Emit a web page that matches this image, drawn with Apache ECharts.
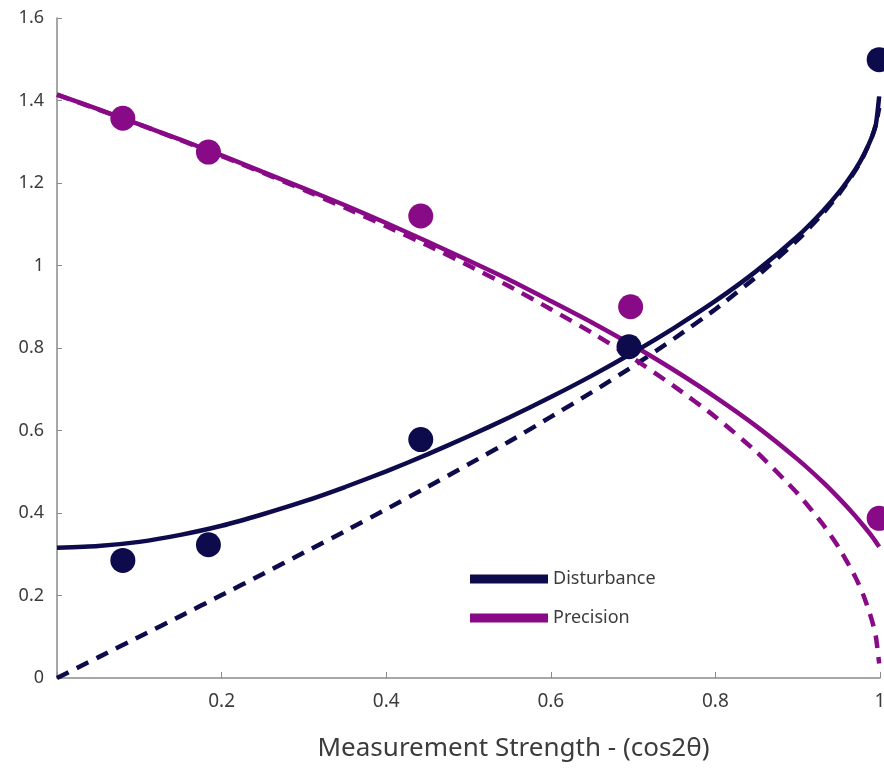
<!DOCTYPE html>
<html>
<head>
<meta charset="utf-8">
<script src="https://cdn.jsdelivr.net/npm/echarts@6/dist/echarts.min.js"></script>
<style>
html,body{margin:0;padding:0;background:#fff;}
#c{width:884px;height:769px;}
</style>
</head>
<body>
<div id="c"></div>
<script>
// ---- data ----
const xTickLabels = ['', '0.2', '0.4', '0.6', '0.8', '1'];
const yTickLabels = ['0', '0.2', '0.4', '0.6', '0.8', '1', '1.2', '1.4', '1.6'];

// measured points (x, y)
const disturbancePoints = [[0.08, 0.285], [0.184, 0.323], [0.442, 0.578], [0.695, 0.803], [0.999, 1.499]];
const precisionPoints   = [[0.08, 1.357], [0.184, 1.275], [0.442, 1.120], [0.697, 0.900], [0.999, 0.387]];

// curve sample positions along the x axis
const curveX = [0, 0.05, 0.1, 0.15, 0.2, 0.25, 0.3, 0.35, 0.4, 0.45, 0.5, 0.55, 0.6, 0.65, 0.7, 0.75,
                0.8, 0.85, 0.9, 0.93, 0.95, 0.97, 0.98, 0.99, 0.995, 0.999];

// solid fitted curves
const disturbanceSolid = [0.316, 0.320, 0.330, 0.347, 0.369, 0.397, 0.428, 0.463, 0.501, 0.542, 0.586, 0.632,
                          0.681, 0.733, 0.789, 0.849, 0.914, 0.987, 1.071, 1.131, 1.177, 1.233, 1.267, 1.311, 1.342, 1.410];
const precisionSolid   = [1.414, 1.379, 1.342, 1.305, 1.267, 1.227, 1.187, 1.146, 1.103, 1.058, 1.012, 0.965,
                          0.914, 0.862, 0.806, 0.746, 0.681, 0.610, 0.530, 0.476, 0.436, 0.393, 0.369, 0.344, 0.330, 0.318];

// dashed theoretical curves
const disturbanceDashed = [0.0, 0.050, 0.100, 0.150, 0.201, 0.252, 0.304, 0.356, 0.409, 0.463, 0.518, 0.574,
                           0.633, 0.693, 0.756, 0.823, 0.894, 0.973, 1.062, 1.125, 1.173, 1.230, 1.266, 1.311, 1.342, 1.382];
const precisionDashed   = [1.414, 1.378, 1.342, 1.304, 1.265, 1.225, 1.183, 1.140, 1.095, 1.049, 1.000, 0.949,
                           0.894, 0.837, 0.775, 0.707, 0.633, 0.548, 0.447, 0.374, 0.316, 0.245, 0.200, 0.141, 0.100, 0.035];

const NAVY = '#0d0b4c';
const PURPLE = '#880a86';
const AXIS = '#8a8a8a';
const TEXT = '#3c3c3c';
const FONT = 'Noto Sans';

function pairs(xs, ys) { return xs.map((x, i) => [x, ys[i]]); }

const chart = echarts.init(document.getElementById('c'), null, {renderer: 'canvas'});
chart.setOption({
  animation: false,
  backgroundColor: '#fff',
  grid: {left: 57, right: 4, top: 18, bottom: 91, containLabel: false, outerBoundsMode: 'none'},
  legend: {
    orient: 'vertical',
    left: 465, top: 564,
    padding: 5,
    itemWidth: 78, itemHeight: 9,
    itemGap: 19,
    icon: 'rect',
    textStyle: {fontFamily: FONT, fontSize: 18, color: TEXT, lineHeight: 20},
    data: [
      {name: 'Disturbance', icon: 'rect', itemStyle: {color: NAVY}},
      {name: 'Precision', icon: 'rect', itemStyle: {color: PURPLE}}
    ]
  },
  xAxis: {
    type: 'value', min: 0, max: 1, interval: 0.2,
    name: 'Measurement Strength - (cos2θ)',
    nameLocation: 'middle', nameGap: 58,
    nameTextStyle: {fontFamily: FONT, fontSize: 26, color: TEXT, padding: [0, 0, 0, 90]},
    axisLine: {lineStyle: {color: AXIS, width: 1.5}},
    axisTick: {inside: true, length: 6, lineStyle: {color: AXIS}},
    axisLabel: {
      fontFamily: FONT, fontSize: 19, color: TEXT, margin: 14,
      formatter: (v, i) => xTickLabels[i] !== undefined ? xTickLabels[i] : ''
    },
    splitLine: {show: false}
  },
  yAxis: {
    type: 'value', min: 0, max: 1.6, interval: 0.2,
    axisLine: {show: true, lineStyle: {color: AXIS, width: 1.5}},
    axisTick: {show: true, inside: true, length: 5, lineStyle: {color: AXIS}},
    axisLabel: {
      fontFamily: FONT, fontSize: 18, color: TEXT, margin: 13,
      formatter: (v, i) => yTickLabels[i] !== undefined ? yTickLabels[i] : ''
    },
    splitLine: {show: false}
  },
  series: [
    {
      name: 'Disturbance (ideal)', type: 'line', data: pairs(curveX, disturbanceDashed),
      showSymbol: false, smooth: 0.2, color: NAVY,
      lineStyle: {color: NAVY, width: 4.5, type: [13, 9]}, z: 2
    },
    {
      name: 'Precision (ideal)', type: 'line', data: pairs(curveX, precisionDashed),
      showSymbol: false, smooth: 0.2, color: PURPLE,
      lineStyle: {color: PURPLE, width: 4.5, type: [13, 9]}, z: 2
    },
    {
      name: 'Precision', type: 'line', data: pairs(curveX, precisionSolid),
      showSymbol: false, smooth: 0.2, color: PURPLE,
      lineStyle: {color: PURPLE, width: 4.5}, z: 3
    },
    {
      name: 'Disturbance', type: 'line', data: pairs(curveX, disturbanceSolid),
      showSymbol: false, smooth: 0.2, color: NAVY,
      lineStyle: {color: NAVY, width: 4.5}, z: 3
    },
    {
      name: 'Precision data', type: 'scatter', data: precisionPoints,
      symbol: 'circle', symbolSize: 25, clip: false,
      itemStyle: {color: PURPLE, opacity: 1}, z: 4
    },
    {
      name: 'Disturbance data', type: 'scatter', data: disturbancePoints,
      symbol: 'circle', symbolSize: 25, clip: false,
      itemStyle: {color: NAVY, opacity: 1}, z: 5
    }
  ]
});
</script>
</body>
</html>
